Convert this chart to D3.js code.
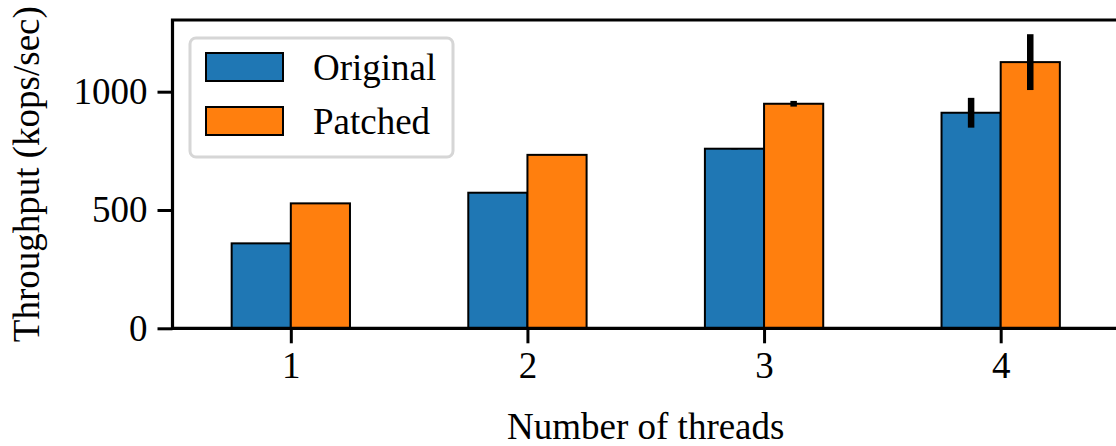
<!DOCTYPE html>
<html>
<head>
<meta charset="utf-8">
<script src="https://cdn.jsdelivr.net/npm/d3@7"></script>
<style>
  body { margin: 0; background: #fff; }
  svg text { font-family: "Liberation Serif", "Times New Roman", serif; fill: #000; }
</style>
</head>
<body>
<svg id="chart" width="1116" height="446"></svg>
<script>
// data
var threads = [1, 2, 3, 4];
var original = [359, 573, 759, 911];
var patched = [528, 733, 949, 1125];
var originalErr = [0, 0, 3, 63];
var patchedErr = [0, 0, 12, 118];
var yTicks = [0, 500, 1000];
var seriesNames = ["Original", "Patched"];
var seriesColors = ["#1f77b4", "#ff7f0e"];

var svg = d3.select('#chart');
var fontSize = 37;

var xScale = d3.scaleLinear().domain([0.5, 4.5]).range([172.5, 1119]);
var yScale = d3.scaleLinear().domain([0, 1303]).range([328.3, 20]);
var barW = 0.25;

var series = [
  {name: seriesNames[0], color: seriesColors[0], vals: original, err: originalErr, off: -barW / 2},
  {name: seriesNames[1], color: seriesColors[1], vals: patched, err: patchedErr, off: barW / 2}
];

// bars
series.forEach(function(s) {
  var g = svg.append('g');
  g.selectAll('rect')
    .data(threads)
    .enter().append('rect')
    .attr('x', function(d) { return xScale(d + s.off - barW / 2); })
    .attr('width', function(d) { return xScale(d + barW) - xScale(d); })
    .attr('y', function(d, i) { return yScale(s.vals[i]); })
    .attr('height', function(d, i) { return yScale(0) - yScale(s.vals[i]); })
    .style('fill', s.color)
    .style('stroke', '#000')
    .style('stroke-width', 2);
});

// error bars
series.forEach(function(s) {
  svg.append('g').selectAll('line')
    .data(threads.filter(function(d, i) { return s.err[i] > 0; }))
    .enter().append('line')
    .attr('x1', function(d) { return xScale(d + s.off); })
    .attr('x2', function(d) { return xScale(d + s.off); })
    .attr('y1', function(d) { var i = threads.indexOf(d); return yScale(s.vals[i] - s.err[i]); })
    .attr('y2', function(d) { var i = threads.indexOf(d); return yScale(s.vals[i] + s.err[i]); })
    .style('stroke', '#000')
    .style('stroke-width', 6.5);
});

// axes
var xAxis = svg.append('g')
  .attr('transform', 'translate(0,' + yScale(0) + ')')
  .call(d3.axisBottom(xScale).tickValues(threads).tickFormat(d3.format('d')).tickSize(15).tickPadding(8));

var yAxis = svg.append('g')
  .attr('transform', 'translate(' + xScale(0.5) + ',0)')
  .call(d3.axisLeft(yScale).tickValues(yTicks).tickFormat(d3.format('d')).tickSize(15).tickPadding(10));

[xAxis, yAxis].forEach(function(a) {
  a.select('.domain').remove();
  a.selectAll('line').style('stroke', '#000').style('stroke-width', 3);
  a.selectAll('text').style('font-size', fontSize + 'px')
    .style('font-family', '"Liberation Serif", "Times New Roman", serif');
});

// spines (left, top, bottom; right one falls off the picture)
var x0 = xScale(0.5), x1 = xScale(4.5), y0 = yScale(0), y1 = yScale(1303);
svg.append('path')
  .attr('d', 'M' + x1 + ',' + y1 + 'H' + x0 + 'V' + y0 + 'H' + x1 + 'Z')
  .style('fill', 'none')
  .style('stroke', '#000')
  .style('stroke-width', 3.2)
  .style('stroke-linecap', 'square');

// axis labels
svg.append('text')
  .attr('x', (x0 + x1) / 2)
  .attr('y', 439)
  .attr('text-anchor', 'middle')
  .style('font-size', fontSize + 'px')
  .text('Number of threads');

svg.append('text')
  .attr('transform', 'translate(39,' + ((y0 + y1) / 2) + ') rotate(-90)')
  .attr('text-anchor', 'middle')
  .style('font-size', fontSize + 'px')
  .text('Throughput (kops/sec)');

// legend
var legend = svg.append('g');
legend.append('rect')
  .attr('x', 190).attr('y', 38)
  .attr('width', 263).attr('height', 119)
  .attr('rx', 6)
  .style('fill', '#fff').style('fill-opacity', 0.8)
  .style('stroke', '#d6d6d6').style('stroke-width', 3);

var items = legend.selectAll('.item')
  .data(series)
  .enter().append('g')
  .attr('class', 'item')
  .attr('transform', function(d, i) { return 'translate(206,' + (53 + i * 54) + ')'; });

items.append('rect')
  .attr('width', 77).attr('height', 28)
  .style('fill', function(d) { return d.color; })
  .style('stroke', '#000').style('stroke-width', 2);

items.append('text')
  .attr('x', 107).attr('y', 14)
  .attr('dy', '0.35em')
  .style('font-size', fontSize + 'px')
  .text(function(d) { return d.name; });
</script>
</body>
</html>
